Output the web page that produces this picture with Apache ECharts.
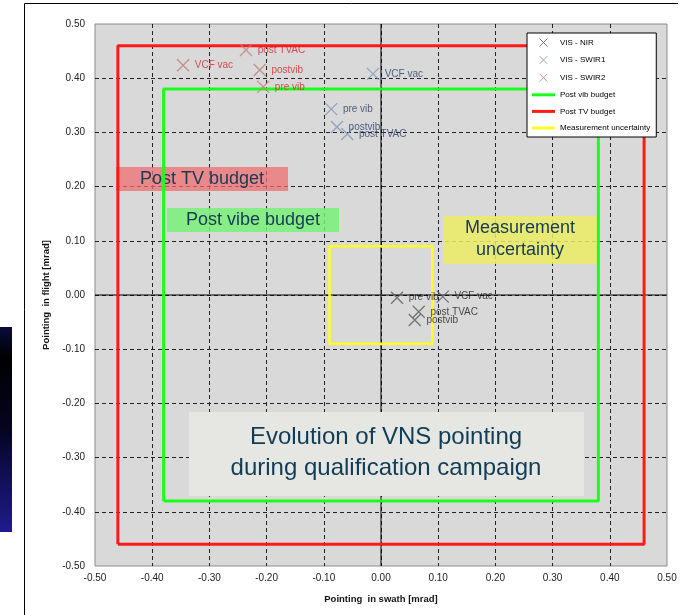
<!DOCTYPE html>
<html><head><meta charset="utf-8">
<script src="https://cdn.jsdelivr.net/npm/echarts@6/dist/echarts.min.js"></script>
<style>html,body{margin:0;padding:0;background:#fff}#c{width:687px;height:615px}</style>
</head><body><div id="c"></div>
<script>
// ---- data ----
const axisMin = -0.5, axisMax = 0.5, axisStep = 0.1;
const pointLabels = ['pre vib', 'postvib', 'post TVAC', 'VCF vac'];
const nirX   = [0.028, 0.059, 0.066, 0.108];
const nirY   = [-0.005, -0.046, -0.031, -0.003];
const swir1X = [-0.087, -0.077, -0.059, -0.014];
const swir1Y = [0.343, 0.310, 0.297, 0.408];
const swir2X = [-0.206, -0.212, -0.236, -0.346];
const swir2Y = [0.384, 0.415, 0.452, 0.424];
const vibBudget = 0.38;      // half-width of post vib budget square
const tvBudget = 0.46;       // half-width of post TV budget square
const uncertainty = 0.09;    // half-width of measurement uncertainty square
const seriesNames = ['VIS - NIR', 'VIS - SWIR1', 'VIS - SWIR2', 'Post vib budget', 'Post TV budget', 'Measurement uncertainty'];

const FONT = 'Liberation Sans, Arial, sans-serif';
const XPATH = 'path://M0,0L10,10M10,0L0,10';
const LINEICON = 'path://M0,0H23V3H0Z';
const colVib = '#1aff1a', colTV = '#ff1a1a', colUnc = '#ffff22';

function pts(xs, ys) { return xs.map((x, i) => ({ name: pointLabels[i], value: [x, ys[i]] })); }
function square(h) { return [[-h, -h], [h, -h], [h, h], [-h, h], [-h, -h]]; }

function scatter(name, xs, ys, markColor, labelColor) {
  return {
    name, type: 'scatter', data: pts(xs, ys), symbol: XPATH, symbolSize: 12, symbolKeepAspect: true,
    itemStyle: { color: 'transparent', borderColor: markColor, borderWidth: 1.3 },
    label: { show: true, position: 'right', distance: 5, formatter: p => p.name, color: labelColor, fontSize: 10, fontFamily: FONT },
    emphasis: { disabled: true }, z: 3
  };
}
function rect(name, h, color, w) {
  return { name, type: 'line', data: square(h), symbol: 'none', showSymbol: false, lineStyle: { color, width: w }, itemStyle: { color }, z: 2, silent: true };
}

const chart = echarts.init(document.getElementById('c'));
const boxText = '#173a55';
chart.setOption({
  backgroundColor: '#ffffff',
  animation: false,
  grid: { left: 95, right: 20, top: 24, bottom: 49, show: true, backgroundColor: '#d9d9d9', borderColor: '#8c8c8c', borderWidth: 1 },
  xAxis: {
    type: 'value', min: axisMin, max: axisMax, interval: axisStep,
    name: 'Pointing  in swath [mrad]', nameLocation: 'middle', nameGap: 28,
    nameTextStyle: { fontSize: 9.5, fontWeight: 'bold', color: '#111', fontFamily: FONT },
    axisLine: { show: false }, axisTick: { show: false },
    axisLabel: { formatter: v => v.toFixed(2), fontSize: 10, color: '#222', fontFamily: FONT, margin: 7, showMinLabel: true, showMaxLabel: true },
    splitLine: { show: true, showMinLine: false, showMaxLine: false, lineStyle: { color: '#222', type: [4, 3], width: 1 } }
  },
  yAxis: {
    type: 'value', min: axisMin, max: axisMax, interval: axisStep,
    name: 'Pointing  in flight [mrad]', nameLocation: 'middle', nameGap: 42, nameRotate: 90,
    nameTextStyle: { fontSize: 9.5, fontWeight: 'bold', color: '#111', fontFamily: FONT },
    axisLine: { show: false }, axisTick: { show: false },
    axisLabel: { formatter: v => v.toFixed(2), fontSize: 10, color: '#222', fontFamily: FONT, margin: 10, showMinLabel: true, showMaxLabel: true },
    splitLine: { show: true, showMinLine: false, showMaxLine: false, lineStyle: { color: '#222', type: [4, 3], width: 1 } }
  },
  legend: {
    orient: 'vertical', left: 527, top: 33, padding: [5, 6, 5, 5],
    backgroundColor: '#ffffff', borderColor: '#000', borderWidth: 1, borderRadius: 0,
    itemWidth: 23, itemHeight: 8, itemGap: 8.6,
    textStyle: { fontSize: 8, color: '#000', fontFamily: FONT },
    data: [
      { name: seriesNames[0], itemStyle: { borderWidth: 1 } },
      { name: seriesNames[1], itemStyle: { borderWidth: 1 } },
      { name: seriesNames[2], itemStyle: { borderWidth: 1 } },
      { name: seriesNames[3], icon: LINEICON, itemStyle: { color: colVib, borderWidth: 0 } },
      { name: seriesNames[4], icon: LINEICON, itemStyle: { color: colTV, borderWidth: 0 } },
      { name: seriesNames[5], icon: LINEICON, itemStyle: { color: colUnc, borderWidth: 0 } }
    ],
    selectedMode: false
  },
  graphic: [
    { type: 'rect', left: 0, top: 327, shape: { width: 12, height: 205 }, style: { fill: new echarts.graphic.LinearGradient(0, 0, 0, 1, [
      { offset: 0, color: '#0b0b3c' }, { offset: 0.15, color: '#000000' }, { offset: 0.5, color: '#050522' }, { offset: 1, color: '#201b8e' }]) }, z: 10 },
    { type: 'polyline', shape: { points: [[24.5, 615], [24.5, 3.5], [678, 3.5]] }, style: { stroke: '#000', lineWidth: 1, fill: null }, z: 10 },
    // annotation boxes
    { type: 'rect', shape: { x: 116, y: 167, width: 172, height: 24 }, style: { fill: 'rgba(238,110,110,0.75)' }, z: 1 },
    { type: 'text', x: 202, y: 179, style: { text: 'Post TV budget', align: 'center', verticalAlign: 'middle', fontSize: 18, fontFamily: FONT, fill: boxText }, z: 1 },
    { type: 'rect', shape: { x: 167, y: 208, width: 172, height: 24 }, style: { fill: 'rgba(120,240,120,0.85)' }, z: 1 },
    { type: 'text', x: 253, y: 220, style: { text: 'Post vibe budget', align: 'center', verticalAlign: 'middle', fontSize: 18, fontFamily: FONT, fill: boxText }, z: 1 },
    { type: 'rect', shape: { x: 443, y: 216, width: 155, height: 48 }, style: { fill: 'rgba(235,235,100,0.85)' }, z: 1 },
    { type: 'text', x: 520, y: 239, style: { text: 'Measurement\nuncertainty', align: 'center', verticalAlign: 'middle', fontSize: 18, lineHeight: 22, fontFamily: FONT, fill: boxText }, z: 1 },
    { type: 'rect', shape: { x: 189, y: 412, width: 395, height: 84 }, style: { fill: '#e6e6e2' }, z: 1 },
    { type: 'text', x: 386, y: 453, style: { text: 'Evolution of VNS pointing\nduring qualification campaign', align: 'center', verticalAlign: 'middle', fontSize: 24, lineHeight: 31, fontFamily: FONT, fill: '#0f3d57' }, z: 1 }
  ],
  series: [
    { name: 'zero-x', type: 'line', data: [[axisMin, 0], [axisMax, 0]], symbol: 'none', lineStyle: { color: '#000', width: 1 }, silent: true, z: 0.5 },
    { name: 'zero-y', type: 'line', data: [[0, axisMin], [0, axisMax]], symbol: 'none', lineStyle: { color: '#000', width: 1 }, silent: true, z: 0.5 },
    rect(seriesNames[3], vibBudget, colVib, 3),
    rect(seriesNames[4], tvBudget, colTV, 3),
    rect(seriesNames[5], uncertainty, colUnc, 2.5),
    scatter(seriesNames[0], nirX, nirY, '#5a5a5a', '#1e1e1e'),
    scatter(seriesNames[1], swir1X, swir1Y, '#7f94b8', '#2c3d6c'),
    scatter(seriesNames[2], swir2X, swir2Y, '#c07c7c', '#d8242c')
  ]
});
</script></body></html>
